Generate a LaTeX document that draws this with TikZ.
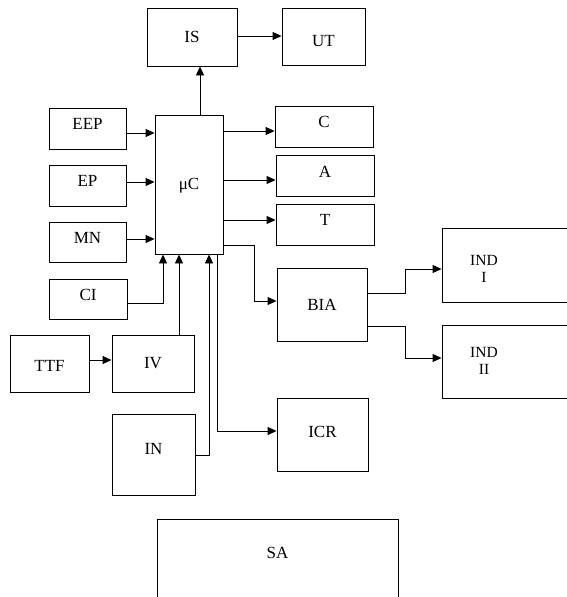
\documentclass[tikz,border=0pt]{standalone}
\usepackage{fontspec}
\setmainfont{Liberation Serif}
\usetikzlibrary{arrows.meta}
\begin{document}
\begin{tikzpicture}[x=1pt,y=-1pt,
  box/.style={draw, line width=0.9pt, inner sep=0pt},
  arr/.style={line width=0.9pt, -{Triangle[length=9pt,width=8pt]}},
  every label/.style={font=\fontsize{17}{18}\selectfont, inner sep=0pt, align=center},
  small/.style={font=\fontsize{15.5}{17}\selectfont, inner sep=0pt, align=center},
]
\useasboundingbox (0,0) rectangle (567,597);
\clip (0,0) rectangle (567,597);

\node[box, minimum width=90pt, minimum height=58pt, label={center:IS}] (nIS) at (192,37) {};
\node[box, minimum width=83pt, minimum height=57pt, label={[yshift=-5pt]center:UT}] (nUT) at (323.5,36.5) {};
\node[box, minimum width=68pt, minimum height=139pt, label={[yshift=-1pt]center:μC}] (nMC) at (189,184.5) {};

\node[box, minimum width=77pt, minimum height=41pt, label={[yshift=4.5pt]center:EEP}] (nEEP) at (87.5,128.5) {};
\node[box, minimum width=77pt, minimum height=41pt, label={[yshift=4.5pt]center:EP}] (nEP) at (87.5,185.5) {};
\node[box, minimum width=77pt, minimum height=40pt, label={[yshift=4pt]center:MN}] (nMN) at (87.5,242) {};
\node[box, minimum width=78pt, minimum height=40pt, label={[yshift=4pt]center:CI}] (nCI) at (88,299) {};

\node[box, minimum width=98pt, minimum height=41pt, label={[yshift=4.5pt]center:C}] (nC) at (324,126.5) {};
\node[box, minimum width=98pt, minimum height=41pt, label={[yshift=4pt]center:A}] (nA) at (325,175.5) {};
\node[box, minimum width=98pt, minimum height=41pt, label={[yshift=4.5pt]center:T}] (nT) at (325,224.5) {};

\node[box, minimum width=90pt, minimum height=73pt, label={center:BIA}] (nBIA) at (322,304.5) {};
\node[box, minimum width=91pt, minimum height=73pt, label={[yshift=2.5pt]center:ICR}] (nICR) at (322.5,434.5) {};

\node[box, minimum width=79pt, minimum height=57pt, label={[yshift=-2pt]center:TTF}] (nTTF) at (49.5,363.5) {};
\node[box, minimum width=82pt, minimum height=57pt, label={center:IV}] (nIV) at (153,363.5) {};
\node[box, minimum width=83pt, minimum height=81pt, label={[yshift=5.5pt]center:IN}] (nIN) at (153.5,454.5) {};

\node[box, minimum width=158pt, minimum height=74pt, label={[small, xshift=-37pt, yshift=-3.5pt]center:{IND\\I}}] (nIND1) at (521,265) {};
\node[box, minimum width=158pt, minimum height=73pt, label={[small, xshift=-37pt, yshift=1pt]center:{IND\\II}}] (nIND2) at (521,361.5) {};

\node[box, minimum width=241pt, minimum height=121pt, label={[yshift=26.5pt]center:SA}] (nSA) at (277.5,579.5) {};

% connectors
\draw[arr] (nIS.east |- 0,36) -- (nUT.west |- 0,36);
\draw[arr] (nMC.north -| 200,0) -- (nIS.south -| 200,0);

\draw[arr] (nEEP.east |- 0,133) -- (nMC.west |- 0,133);
\draw[arr] (nEP.east |- 0,182) -- (nMC.west |- 0,182);
\draw[arr] (nMN.east |- 0,239) -- (nMC.west |- 0,239);

\draw[arr] (nMC.east |- 0,131) -- (nC.west |- 0,131);
\draw[arr] (nMC.east |- 0,180) -- (nA.west |- 0,180);
\draw[arr] (nMC.east |- 0,220) -- (nT.west |- 0,220);

\draw[arr] (nMC.east |- 0,245) -| (254,301) -- (nBIA.west |- 0,301);
\draw[arr] (nBIA.east |- 0,293) -| (405,269) -- (nIND1.west |- 0,269);
\draw[arr] (nBIA.east |- 0,326) -| (405,358) -- (nIND2.west |- 0,358);

\draw[arr] (nCI.east |- 0,303) -| (nMC.south -| 163,0);
\draw[arr] (nTTF.east |- 0,360) -- (nIV.west |- 0,360);
\draw[arr] (nIV.north -| 179,0) -- (nMC.south -| 179,0);
\draw[arr] (nIN.east |- 0,455) -| (nMC.south -| 209,0);
\draw[arr] (nMC.south -| 217,0) |- (nICR.west |- 0,431);
\end{tikzpicture}
\end{document}
